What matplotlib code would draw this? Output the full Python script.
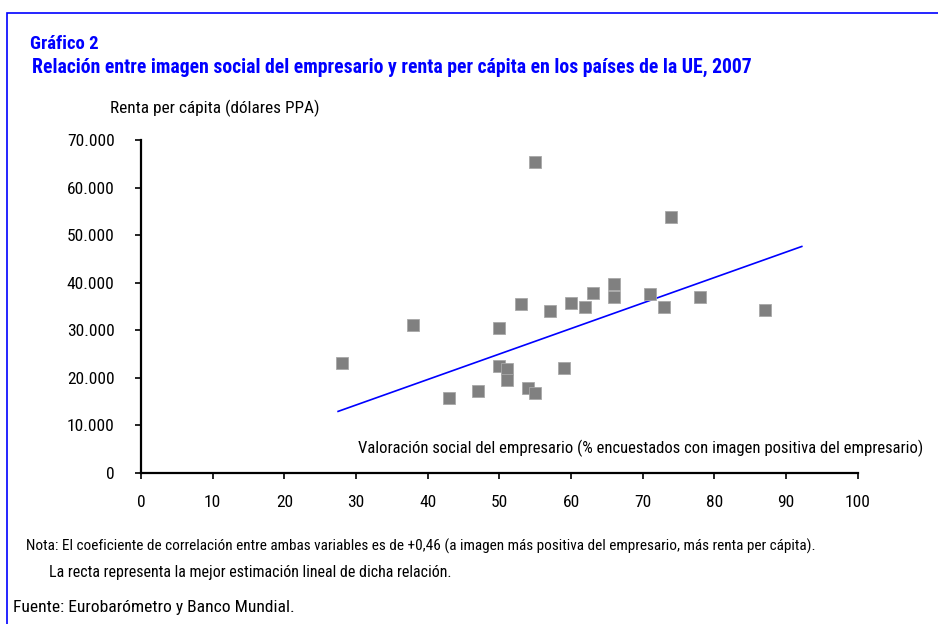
import matplotlib
matplotlib.use('Agg')
import matplotlib.pyplot as plt
from matplotlib.patches import Rectangle
from matplotlib.ticker import FuncFormatter

# Data
imagen = [28, 38, 43, 47, 50, 50, 51, 51, 53, 55, 54, 55,
          57, 59, 60, 62, 63, 66, 66, 71, 73, 74, 78, 87]
renta = [23000, 31000, 15700, 17100, 30400, 22500, 21800, 19500, 35500, 65300, 17800, 16800,
         34000, 22100, 35800, 34900, 37900, 39600, 37000, 37600, 34900, 53800, 37000, 34300]
# Regression line end points
recta_x = [27.5, 92.2]
recta_y = [12900, 47600]

x_ticks = list(range(0, 101, 10))
y_ticks = list(range(0, 70001, 10000))

plt.rcParams['font.family'] = ['Roboto Condensed', 'DejaVu Sans']

fig = plt.figure(figsize=(9.38, 6.24), dpi=100)
W, H = 938, 624

# Blue frame round the figure
fig.patches.append(Rectangle((7 / W, -0.1), 1.2, 1 - 13 / H + 0.1, transform=fig.transFigure,
                             fill=False, edgecolor='#0000ff', linewidth=1.2))

ax = fig.add_axes([141 / W, 1 - 472.7 / H, (857.7 - 141) / W, (472.7 - 140) / H])
ax.plot(imagen, renta, linestyle='none', marker='s', markersize=9.3,
        markerfacecolor='#808080', markeredgecolor='#a8a8a8', markeredgewidth=0.6, zorder=3)
ax.plot(recta_x, recta_y, color='#0000ff', linewidth=1.2, zorder=2)

ax.set_xlim(0, 100)
ax.set_ylim(0, 70000)
ax.set_xticks(x_ticks)
ax.set_yticks(y_ticks)
ax.yaxis.set_major_formatter(FuncFormatter(lambda v, p: f'{int(v):,}'.replace(',', '.')))
for s in ['top', 'right']:
    ax.spines[s].set_visible(False)
for s in ['left', 'bottom']:
    ax.spines[s].set_linewidth(1.6)
ax.tick_params(direction='out', length=4, width=1.2, labelsize=12.5)
ax.tick_params(axis='y', pad=15)
ax.tick_params(axis='x', pad=12)

# Titles and labels
fig.text(30 / W, 1 - 49 / H, 'Gráfico 2', color='#0000ff', fontsize=13.5, fontweight='bold')
fig.text(32 / W, 1 - 73 / H,
         'Relación entre imagen social del empresario y renta per cápita en los países de la UE, 2007',
         color='#0000ff', fontsize=14.2, fontweight='bold')
fig.text(110 / W, 1 - 113 / H, 'Renta per cápita (dólares PPA)', fontsize=12.4)
fig.text(358 / W, 1 - 453 / H,
         'Valoración social del empresario (% encuestados con imagen positiva del empresario)',
         fontsize=12.0)

fig.text(26 / W, 1 - 551 / H,
         'Nota: El coeficiente de correlación entre ambas variables es de +0,46 '
         '(a imagen más positiva del empresario, más renta per cápita).', fontsize=11)
fig.text(49 / W, 1 - 577 / H,
         'La recta representa la mejor estimación lineal de dicha relación.', fontsize=11.5)
fig.text(13 / W, 1 - 612 / H, 'Fuente: Eurobarómetro y Banco Mundial.', fontsize=12.6)

fig.savefig('out.png', dpi=100)
